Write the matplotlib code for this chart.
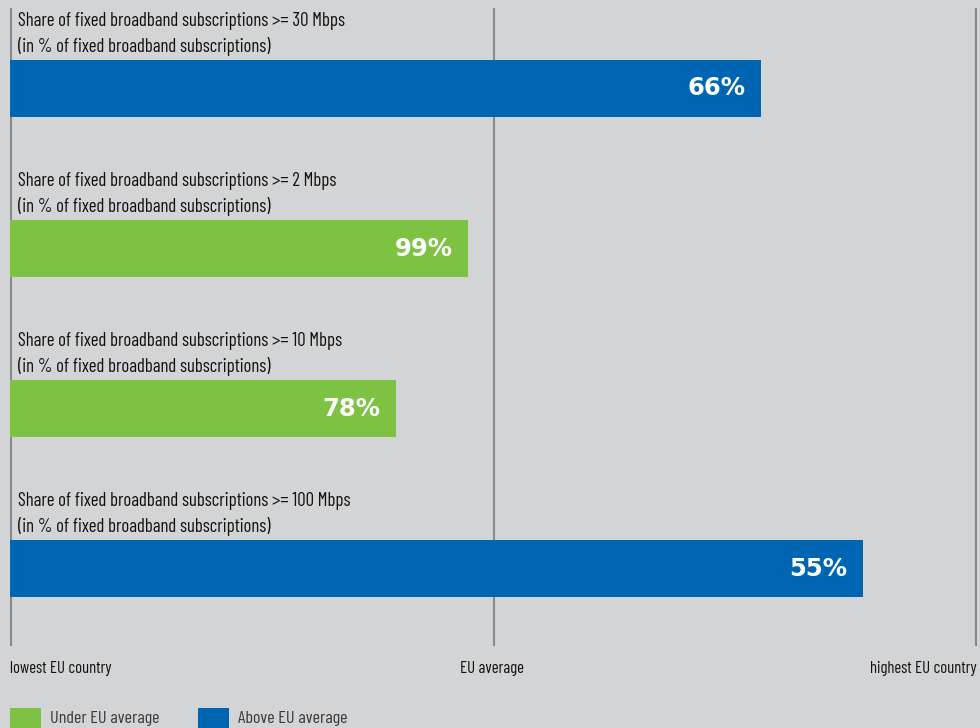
import matplotlib
matplotlib.use("Agg")
import matplotlib.pyplot as plt
from matplotlib.patches import Rectangle

# ---- data ----
indicators = [
    "Share of fixed broadband subscriptions >= 30 Mbps\n(in % of fixed broadband subscriptions)",
    "Share of fixed broadband subscriptions >= 2 Mbps\n(in % of fixed broadband subscriptions)",
    "Share of fixed broadband subscriptions >= 10 Mbps\n(in % of fixed broadband subscriptions)",
    "Share of fixed broadband subscriptions >= 100 Mbps\n(in % of fixed broadband subscriptions)",
]
# relative position between lowest EU country (0) and highest EU country (1)
positions = [0.777, 0.4736, 0.399, 0.882]
value_labels = ["66%", "99%", "78%", "55%"]
above_avg = [True, False, False, True]
scale_labels = ["lowest EU country", "EU average", "highest EU country"]
scale_ticks = [0.0, 0.5, 1.0]
legend_labels = ["Under EU average", "Above EU average"]

BG = "#d3d4d6"
BLUE = "#0066b3"
GREEN = "#7dc242"
LINE = "#8a8a8c"

COND = ["Barlow Condensed", "DejaVu Sans"]

W, H = 980, 728
fig = plt.figure(figsize=(W / 100, H / 100), dpi=100, facecolor=BG)

# axes: x 0..1 maps to pixel 10..977 ; y spans pixel 8..646
ax = fig.add_axes([10 / W, 1 - 646 / H, 967 / W, (646 - 8) / H])
ax.set_facecolor(BG)
ax.set_xlim(0, 1)
ax.set_ylim(3.484, -0.503)
for s in ax.spines.values():
    s.set_visible(False)
ax.set_xticks([])
ax.set_yticks([])

for x, lw in zip(scale_ticks, [3, 1.5, 3]):
    ax.axvline(x, color=LINE, lw=lw, zorder=1)

for i, (txt, p, lab, up) in enumerate(zip(indicators, positions, value_labels, above_avg)):
    ax.barh(i, p, height=0.356, left=0, color=BLUE if up else GREEN, zorder=2)
    ax.text(0.008, i - 0.34, txt, ha="left", va="center", fontsize=13.5,
            family=COND, color="#111111", linespacing=1.42)
    ax.text(p - 0.016, i, lab, ha="right", va="center", fontsize=17.5,
            fontweight="bold", color="white", zorder=3, family="DejaVu Sans")

# scale labels
fig.text(10 / W, 1 - 669 / H, scale_labels[0], ha="left", va="center",
         fontsize=12, family=COND, color="#111111")
fig.text(492 / W, 1 - 669 / H, scale_labels[1], ha="center", va="center",
         fontsize=12, family=COND, color="#111111")
fig.text(977 / W, 1 - 669 / H, scale_labels[2], ha="right", va="center",
         fontsize=12, family=COND, color="#111111")

# legend
for x0, col, lab in [(10, GREEN, legend_labels[0]), (198, BLUE, legend_labels[1])]:
    fig.patches.append(Rectangle((x0 / W, 0), 31 / W, 20 / H, transform=fig.transFigure,
                                 facecolor=col, edgecolor="none"))
    fig.text((x0 + 40) / W, 1 - 719 / H, lab, ha="left", va="center",
             fontsize=13, family=COND, color="#3a3a3a")

fig.savefig("out.png", dpi=100, facecolor=BG)
